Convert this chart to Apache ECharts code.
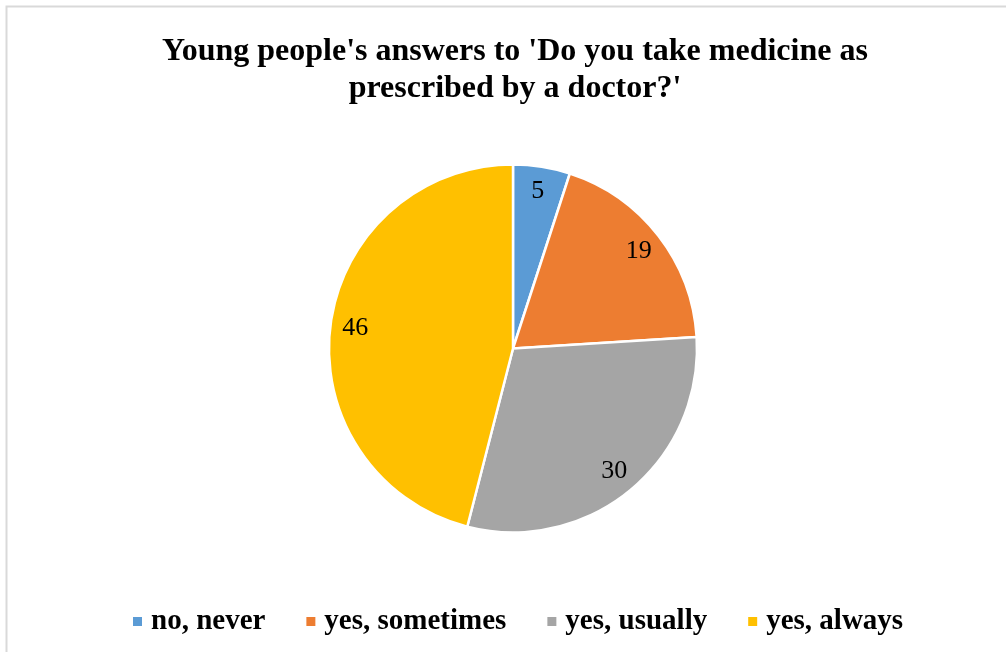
<!DOCTYPE html>
<html>
<head>
<meta charset="utf-8">
<script src="https://cdn.jsdelivr.net/npm/echarts@6/dist/echarts.min.js"></script>
<style>
  html, body { margin: 0; padding: 0; background: #ffffff; }
  #chart { width: 1006px; height: 652px; }
</style>
</head>
<body>
<div id="chart"></div>
<script>
const titleText = "Young people's answers to 'Do you take medicine as\nprescribed by a doctor?'";
const categories = ['no, never', 'yes, sometimes', 'yes, usually', 'yes, always'];
const values = [5, 19, 30, 46];
const colors = ['#5B9BD5', '#ED7D31', '#A5A5A5', '#FFC000'];

const chart = echarts.init(document.getElementById('chart'), null, { renderer: 'canvas' });

const sliceData = categories.map((name, i) => ({
  name: name,
  value: values[i],
  itemStyle: { color: colors[i] }
}));

const option = {
  backgroundColor: '#ffffff',
  animation: false,
  graphic: [{
    type: 'rect',
    shape: { x: 6.5, y: 6.5, width: 1020, height: 670 },
    style: { fill: 'none', stroke: '#d9d9d9', lineWidth: 2 },
    silent: true,
    z: -10
  }],
  title: {
    text: titleText,
    left: 510,
    top: 28,
    textAlign: 'center',
    textStyle: {
      fontFamily: 'Liberation Serif',
      fontWeight: 'bold',
      fontSize: 32,
      lineHeight: 37,
      color: '#000000'
    }
  },
  legend: {
    data: categories,
    left: 128,
    top: 602,
    orient: 'horizontal',
    icon: 'rect',
    itemWidth: 9,
    itemHeight: 9,
    itemGap: 41,
    itemStyle: { borderWidth: 0 },
    textStyle: {
      fontFamily: 'Liberation Serif',
      fontWeight: 'bold',
      fontSize: 29,
      color: '#000000',
      padding: [0, 0, 0, 4]
    }
  },
  series: [
    {
      name: 'answers',
      type: 'pie',
      center: [513, 348.5],
      radius: [0, 184],
      startAngle: 90,
      clockwise: true,
      silent: true,
      label: { show: false },
      labelLine: { show: false },
      itemStyle: { borderColor: '#ffffff', borderWidth: 2.5 },
      data: sliceData
    },
    {
      name: 'labels',
      type: 'pie',
      center: [513, 348.5],
      radius: [0, 312],
      startAngle: 90,
      clockwise: true,
      silent: true,
      z: 5,
      itemStyle: { color: 'rgba(0,0,0,0)', borderWidth: 0 },
      label: {
        show: true,
        position: 'inside',
        formatter: '{c}',
        fontFamily: 'Liberation Serif',
        fontSize: 26,
        color: '#000000'
      },
      labelLine: { show: false },
      data: categories.map((name, i) => ({ name: name, value: values[i] }))
    }
  ]
};

chart.setOption(option);
</script>
</body>
</html>
